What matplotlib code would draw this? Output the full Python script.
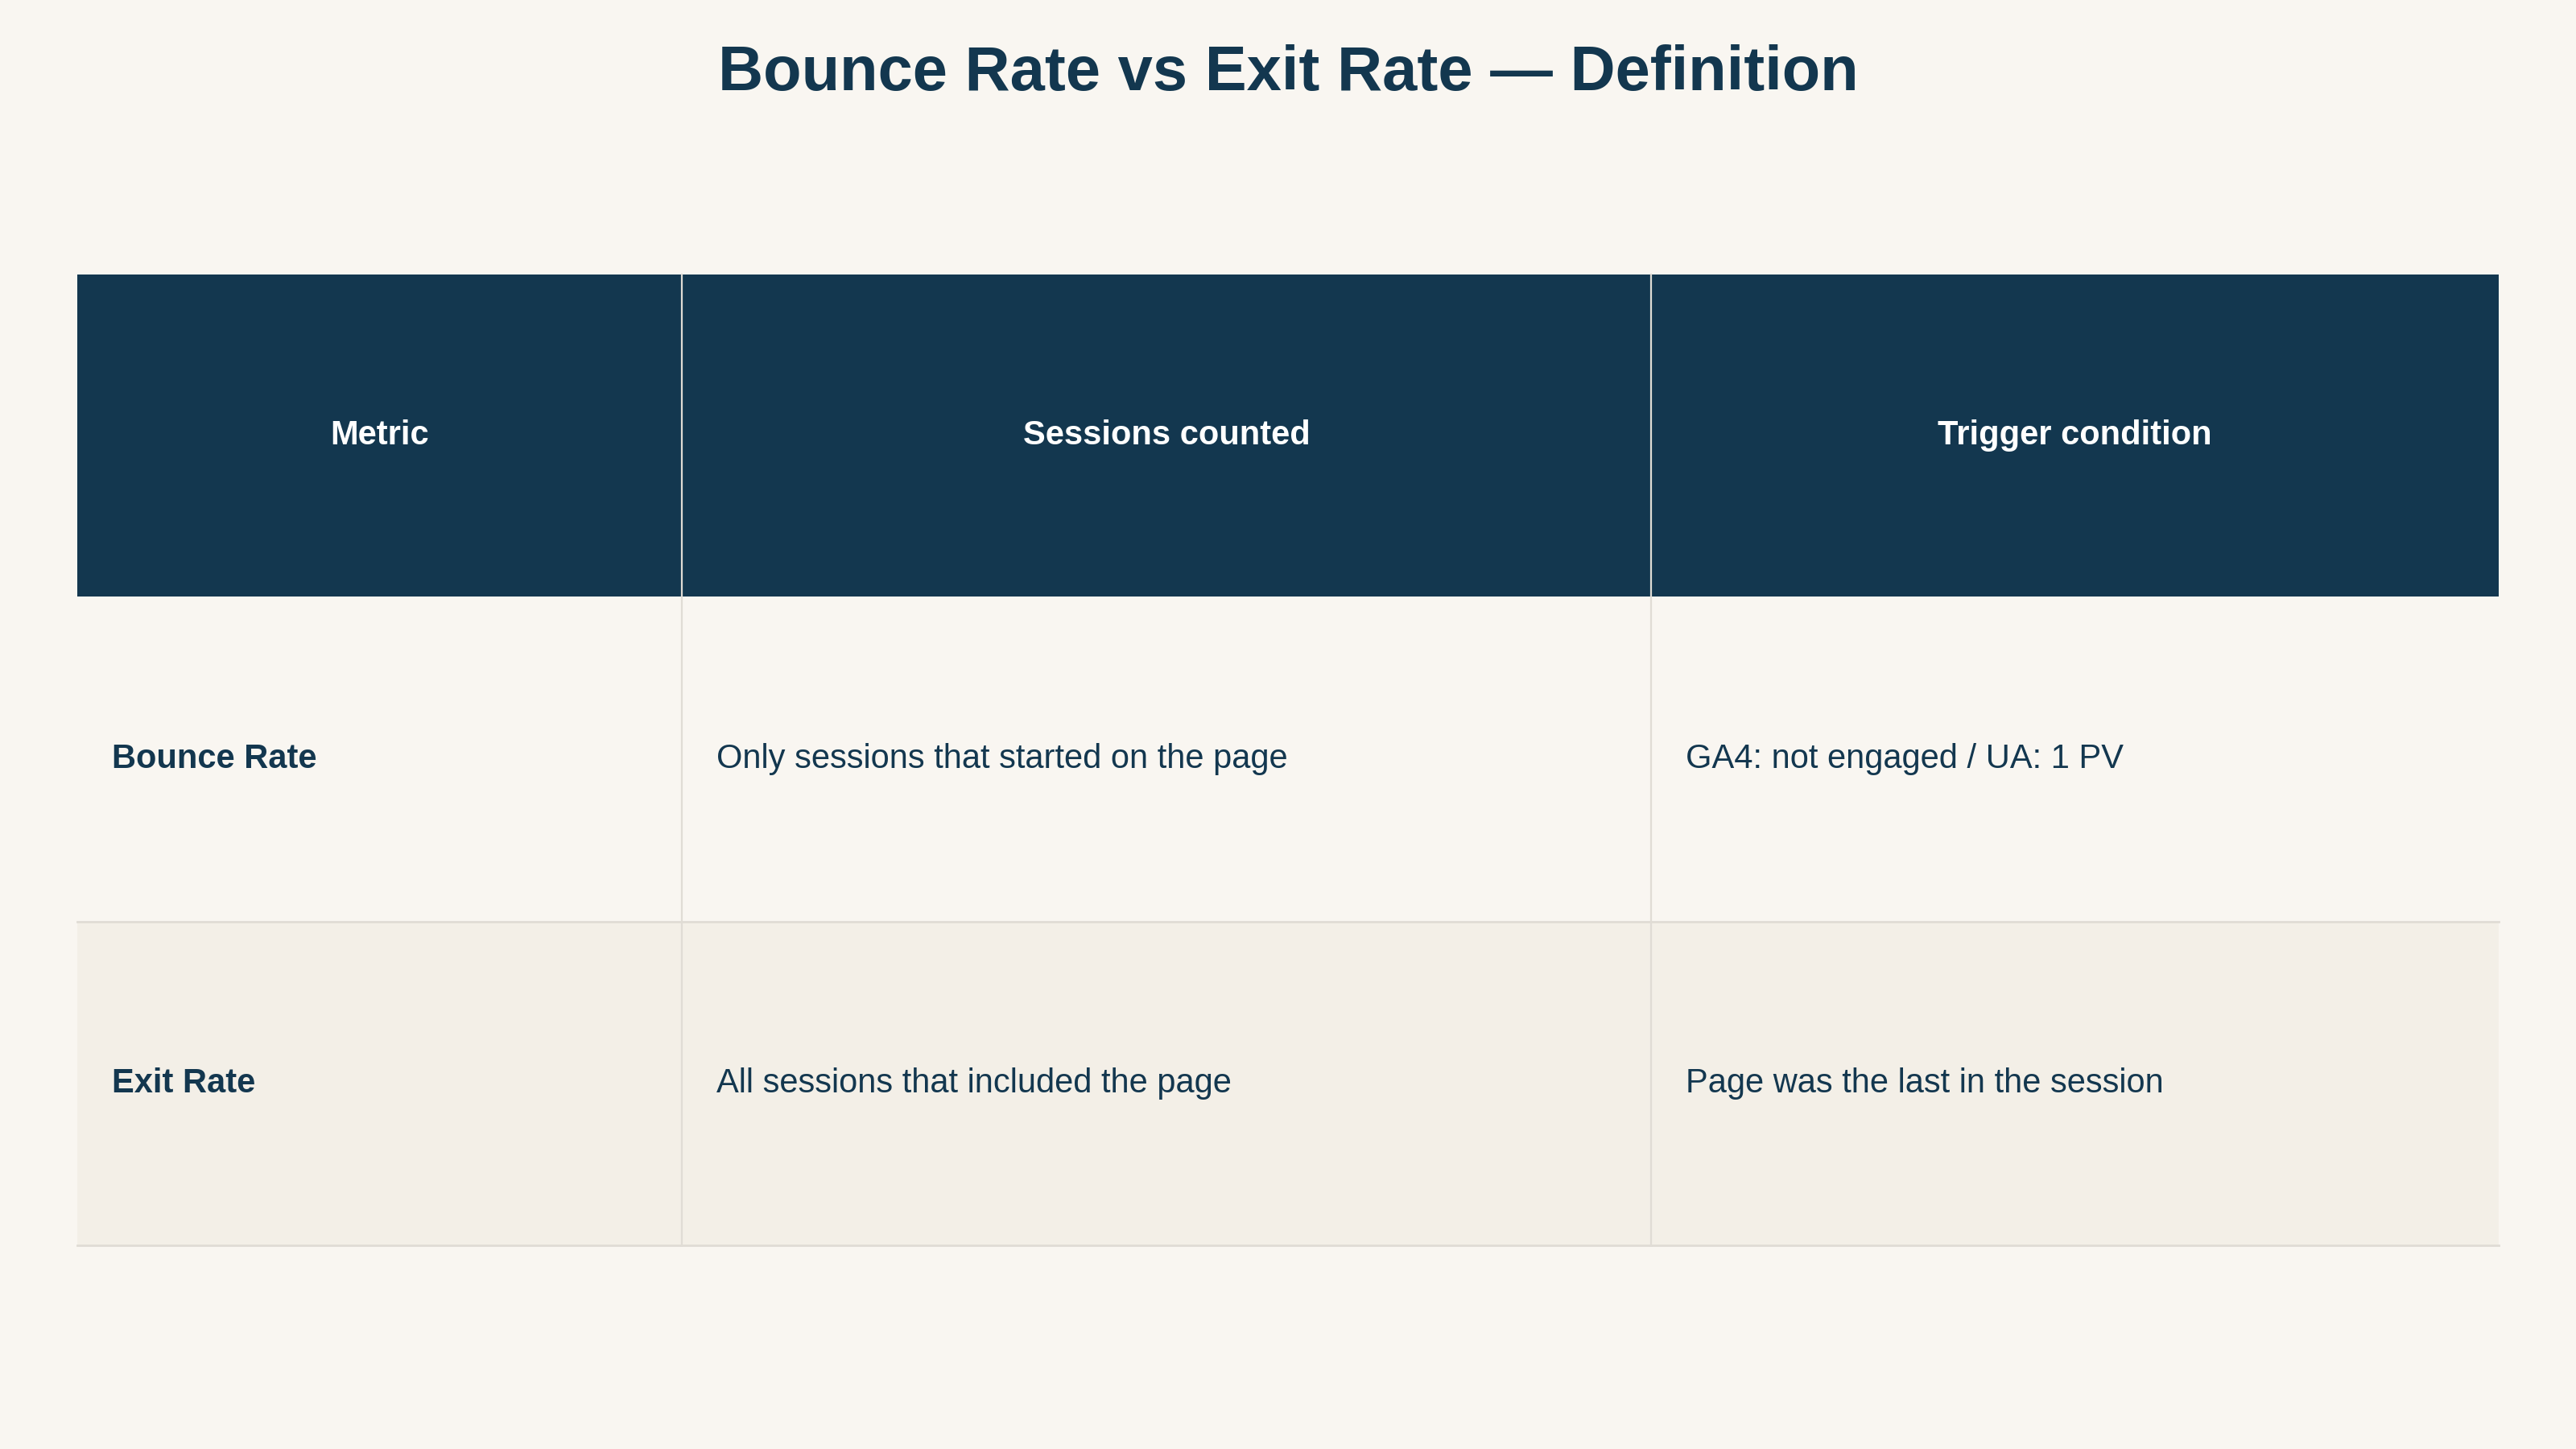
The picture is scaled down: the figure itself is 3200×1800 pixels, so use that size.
import matplotlib
matplotlib.use("Agg")
import matplotlib.pyplot as plt
from matplotlib.patches import Rectangle
from matplotlib.lines import Line2D

title = "Bounce Rate vs Exit Rate — Definition"
headers = ["Metric", "Sessions counted", "Trigger condition"]
metrics = ["Bounce Rate", "Exit Rate"]
sessions = ["Only sessions that started on the page", "All sessions that included the page"]
triggers = ["GA4: not engaged / UA: 1 PV", "Page was the last in the session"]

W, H = 1568, 882
BG = "#f9f6f1"; NAVY = "#13374f"; ALT = "#f3efe7"; GRID = "#e0dcd5"
plt.rcParams['font.family'] = ['Liberation Sans', 'DejaVu Sans']

fig = plt.figure(figsize=(16, 9), dpi=200, facecolor=BG)

def fx(x): return x / W
def fy(y): return 1 - y / H

colx = [47, 415, 1005, 1521]
rowy = [167, 363, 561, 758]

fig.text(0.5, fy(45), title, ha="center", va="center", fontsize=28, fontweight="bold", color=NAVY)

# header
fig.add_artist(Rectangle((fx(colx[0]), fy(rowy[1])), fx(colx[3]) - fx(colx[0]), fy(rowy[0]) - fy(rowy[1]),
                         facecolor=NAVY, edgecolor="none", transform=fig.transFigure))
for i, h in enumerate(headers):
    fig.text((fx(colx[i]) + fx(colx[i + 1])) / 2, fy((rowy[0] + rowy[1]) / 2), h, ha="center", va="center",
             fontsize=15, fontweight="bold", color="white")

rows = list(zip(metrics, sessions, triggers))
for r, row in enumerate(rows):
    y0, y1 = rowy[r + 1], rowy[r + 2]
    fc = BG if r % 2 == 0 else ALT
    fig.add_artist(Rectangle((fx(colx[0]), fy(y1)), fx(colx[3]) - fx(colx[0]), fy(y0) - fy(y1),
                             facecolor=fc, edgecolor="none", transform=fig.transFigure))
    for c, val in enumerate(row):
        fig.text(fx(colx[c] + 21), fy((y0 + y1) / 2), val, ha="left", va="center", fontsize=15,
                 fontweight="bold" if c == 0 else "normal", color=NAVY)
    fig.add_artist(Line2D([fx(colx[0]), fx(colx[3])], [fy(y1), fy(y1)], color=GRID, lw=1, transform=fig.transFigure))

for c in (1, 2):
    fig.add_artist(Line2D([fx(colx[c]), fx(colx[c])], [fy(rowy[0]), fy(rowy[3])], color=GRID, lw=0.8,
                          transform=fig.transFigure))

fig.savefig("out.png", dpi=200, facecolor=BG)
